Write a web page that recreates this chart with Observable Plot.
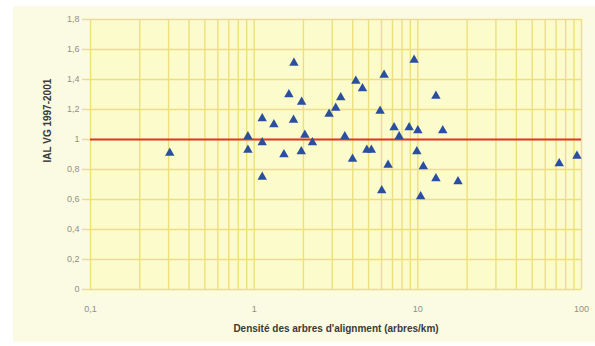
<!DOCTYPE html>
<html>
<head>
<meta charset="utf-8">
<script src="https://cdn.jsdelivr.net/npm/d3@7"></script>
<script src="https://cdn.jsdelivr.net/npm/@observablehq/plot@0.6"></script>
<style>
  html, body { margin: 0; padding: 0; background: #ffffff; }
  #wrap { position: relative; width: 595px; height: 346px; background: #ffffff; overflow: hidden; }
  #panel { position: absolute; left: 13px; top: 6px; width: 582px; height: 336px; background: #fbfbe3; }
  #chart { position: absolute; left: 0; top: 0; }
</style>
</head>
<body>
<div id="wrap"><div id="panel"></div><div id="chart"></div></div>
<script>
// Density of alignment trees (arbres/km)
const densite = [0.305, 0.916, 0.916, 1.12, 1.12, 1.12, 1.32, 1.52, 1.63, 1.75, 1.74, 1.95, 2.04, 2.27, 1.94,
  2.87, 3.15, 3.38, 3.58, 3.99, 4.18, 4.59, 4.88, 5.2, 5.88, 6.02, 6.22, 6.58, 7.16, 7.69,
  8.85, 9.49, 9.86, 10.0, 10.4, 10.8, 12.9, 12.9, 14.2, 17.6, 73.1, 93.8];
// IAL VG 1997-2001
const ial = [0.91, 1.02, 0.93, 1.14, 0.98, 0.75, 1.10, 0.90, 1.30, 1.51, 1.13, 1.25, 1.03, 0.98, 0.92,
  1.17, 1.21, 1.28, 1.02, 0.87, 1.39, 1.34, 0.93, 0.93, 1.19, 0.66, 1.43, 0.83, 1.08, 1.02,
  1.08, 1.53, 0.92, 1.06, 0.62, 0.82, 0.74, 1.29, 1.06, 0.72, 0.84, 0.89];
const reference = [1];
const xTicks = [0.1, 1, 10, 100];
const yTicks = [0, 0.2, 0.4, 0.6, 0.8, 1, 1.2, 1.4, 1.6, 1.8];
const xGrid = [0.1,0.2,0.3,0.4,0.5,0.6,0.7,0.8,0.9,1,2,3,4,5,6,7,8,9,10,20,30,40,50,60,70,80,90,100];
const xTitle = "Densité des arbres d'alignment (arbres/km)";
const yTitle = "IAL VG 1997-2001";

const points = densite.map((d, i) => ({x: d, y: ial[i]}));
const fmt = d => String(d).replace(".", ",");
const grid = "#ece07c";

const chart = Plot.plot({
  width: 595,
  height: 346,
  marginLeft: 90,
  marginRight: 14,
  marginTop: 19,
  marginBottom: 57,
  style: {background: "transparent", fontFamily: "'Liberation Sans', Arial, sans-serif"},
  x: {type: "log", domain: [0.1, 100]},
  y: {domain: [0, 1.8]},
  marks: [
    Plot.frame({fill: "#fcfbcc", stroke: null}),
    Plot.ruleX(xGrid, {stroke: grid, strokeWidth: 1.4}),
    Plot.ruleY(yTicks, {stroke: grid, strokeWidth: 1.4}),
    Plot.axisY({ticks: yTicks, tickSize: 8, tickPadding: 3, stroke: grid, strokeWidth: 1.4, tickFormat: fmt,
      fontSize: 9, fill: "#909088", label: null}),
    Plot.axisX({ticks: xTicks, tickSize: 0, tickPadding: 16, tickFormat: fmt,
      fontSize: 9, fill: "#909088", label: null}),
    Plot.ruleY(reference, {stroke: "#e0362a", strokeWidth: 2.2}),
    Plot.dot(points, {x: "x", y: "y", symbol: "triangle", r: 3.5, fill: "#2b4fa0", stroke: null}),
    Plot.text([xTitle], {frameAnchor: "bottom", dy: 42, fontSize: 10, fontWeight: "bold", fill: "#3a3a3a"}),
    Plot.text([yTitle], {frameAnchor: "left", dx: -43, dy: 8, rotate: -90, fontSize: 10, fontWeight: "bold", fill: "#3a3a3a"})
  ]
});
document.getElementById("chart").appendChild(chart);
</script>
</body>
</html>
